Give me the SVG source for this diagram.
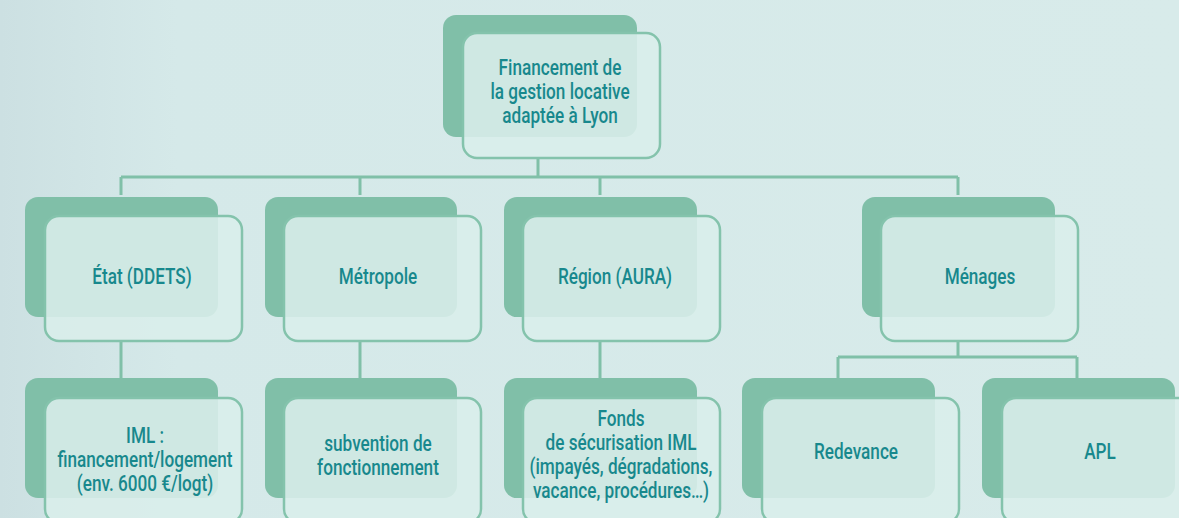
<svg xmlns="http://www.w3.org/2000/svg" width="1179" height="518" viewBox="0 0 1179 518">
<defs>
<linearGradient id="bg" x1="0" y1="0" x2="1" y2="0">
<stop offset="0" stop-color="#cce0e2"/>
<stop offset="0.15" stop-color="#d5e9e9"/>
<stop offset="1" stop-color="#d8ebea"/>
</linearGradient>
<style>
.back{fill:#80bfa8;}
.front{fill:#daeeeb;fill-opacity:0.88;stroke:#84c3ac;stroke-width:2.5;}
.conn{fill:none;stroke:#80c0a8;stroke-width:3;}
.lbl{font-family:Roboto,"Liberation Sans",sans-serif;font-size:22px;font-weight:500;fill:#18888d;text-anchor:middle;}
</style>
</defs>
<rect width="1179" height="518" fill="url(#bg)"/>
<g id="connectors" class="conn">
<path d="M538,158 V177 M121,177 H958 M121,177 V195 M360,177 V195 M600,177 V195 M958,177 V195"/>
<path d="M121,341 V378 M360,341 V378 M600,341 V378"/>
<path d="M958,341 V357 M838,357 H1077 M838,357 V378 M1077,357 V378"/>
</g>
<g id="n-root">
<rect class="back" x="443" y="15" width="194" height="122" rx="13"/>
<rect class="front" x="463" y="33" width="197" height="125" rx="14"/>
<text class="lbl" transform="translate(560 0) scale(0.78 1)"><tspan x="0" y="75">Financement de</tspan><tspan x="0" y="99">la gestion locative</tspan><tspan x="0" y="123">adaptée à Lyon</tspan></text>
</g>
<g id="n-etat">
<rect class="back" x="25" y="197" width="193" height="120" rx="13"/>
<rect class="front" x="45" y="216" width="197" height="125" rx="14"/>
<text class="lbl" transform="translate(142 0) scale(0.78 1)"><tspan x="0" y="284">État (DDETS)</tspan></text>
</g>
<g id="n-metropole">
<rect class="back" x="265" y="197" width="192" height="120" rx="13"/>
<rect class="front" x="284" y="216" width="197" height="125" rx="14"/>
<text class="lbl" transform="translate(378 0) scale(0.78 1)"><tspan x="0" y="284">Métropole</tspan></text>
</g>
<g id="n-region">
<rect class="back" x="504" y="197" width="193" height="120" rx="13"/>
<rect class="front" x="523" y="216" width="197" height="125" rx="14"/>
<text class="lbl" transform="translate(615 0) scale(0.78 1)"><tspan x="0" y="284">Région (AURA)</tspan></text>
</g>
<g id="n-menages">
<rect class="back" x="862" y="197" width="193" height="120" rx="13"/>
<rect class="front" x="881" y="216" width="197" height="125" rx="14"/>
<text class="lbl" transform="translate(980 0) scale(0.78 1)"><tspan x="0" y="284">Ménages</tspan></text>
</g>
<g id="n-iml">
<rect class="back" x="25" y="378" width="193" height="120" rx="13"/>
<rect class="front" x="45" y="398" width="197" height="125" rx="14"/>
<text class="lbl" transform="translate(145 0) scale(0.78 1)"><tspan x="0" y="443">IML :</tspan><tspan x="0" y="467">financement/logement</tspan><tspan x="0" y="491">(env. 6000 €/logt)</tspan></text>
</g>
<g id="n-subvention">
<rect class="back" x="265" y="378" width="192" height="120" rx="13"/>
<rect class="front" x="284" y="398" width="197" height="125" rx="14"/>
<text class="lbl" transform="translate(378 0) scale(0.78 1)"><tspan x="0" y="451">subvention de</tspan><tspan x="0" y="475">fonctionnement</tspan></text>
</g>
<g id="n-fonds">
<rect class="back" x="504" y="378" width="193" height="120" rx="13"/>
<rect class="front" x="523" y="398" width="197" height="125" rx="14"/>
<text class="lbl" transform="translate(621 0) scale(0.78 1)"><tspan x="0" y="426">Fonds</tspan><tspan x="0" y="450">de sécurisation IML</tspan><tspan x="0" y="474">(impayés, dégradations,</tspan><tspan x="0" y="498">vacance, procédures…)</tspan></text>
</g>
<g id="n-redevance">
<rect class="back" x="742" y="378" width="193" height="120" rx="13"/>
<rect class="front" x="762" y="398" width="197" height="125" rx="14"/>
<text class="lbl" transform="translate(856 0) scale(0.78 1)"><tspan x="0" y="459">Redevance</tspan></text>
</g>
<g id="n-apl">
<rect class="back" x="982" y="378" width="193" height="120" rx="13"/>
<rect class="front" x="1002" y="398" width="197" height="125" rx="14"/>
<text class="lbl" transform="translate(1100 0) scale(0.78 1)"><tspan x="0" y="459">APL</tspan></text>
</g>
</svg>
